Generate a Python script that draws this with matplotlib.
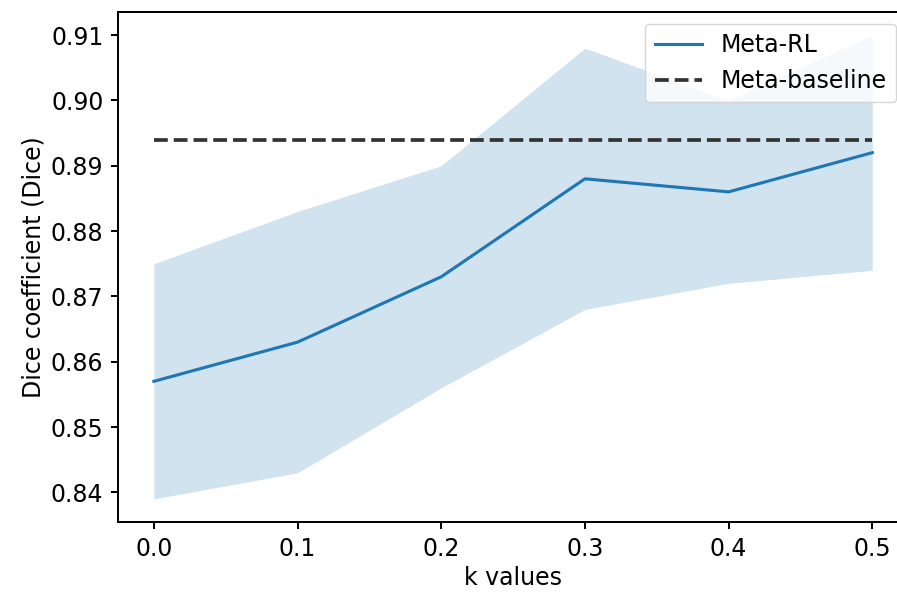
import matplotlib
matplotlib.use("Agg")
import matplotlib.pyplot as plt
import numpy as np

k_values = [0.0, 0.1, 0.2, 0.3, 0.4, 0.5]
meta_rl = [0.857, 0.863, 0.873, 0.888, 0.886, 0.892]
meta_rl_upper = [0.875, 0.883, 0.890, 0.908, 0.900, 0.910]
meta_rl_lower = [0.839, 0.843, 0.856, 0.868, 0.872, 0.874]
baseline = 0.894

s = 2.07 * 72 / 100
plt.rcParams.update({
    "font.size": 17,
    "axes.linewidth": 0.8 * s * 1.2,
    "xtick.major.width": 0.8 * s * 1.2,
    "ytick.major.width": 0.8 * s * 1.2,
    "xtick.major.size": 3.5 * s,
    "ytick.major.size": 3.5 * s,
    "xtick.major.pad": 3.5 * s,
    "ytick.major.pad": 3.5 * s,
})

fig = plt.figure(figsize=(8.97, 5.94), dpi=100)
ax = fig.add_axes([0.1315, 0.121, 0.881, 0.859])

ax.plot(k_values, meta_rl, color="#1f77b4", lw=1.5 * s, label="Meta-RL")
ax.fill_between(k_values, meta_rl_lower, meta_rl_upper, color="#1f77b4", alpha=0.2, lw=0)
ax.plot(k_values, [baseline] * len(k_values), color="#333333", ls="--", lw=1.5 * s * 1.2, label="Meta-baseline")

ax.set_xticks(k_values)
ax.set_yticks([0.84, 0.85, 0.86, 0.87, 0.88, 0.89, 0.90, 0.91])
ax.set_xlabel("k values")
ax.set_ylabel("Dice coefficient (Dice)")
ax.legend(loc="upper right")

fig.savefig("out.png", dpi=100)
